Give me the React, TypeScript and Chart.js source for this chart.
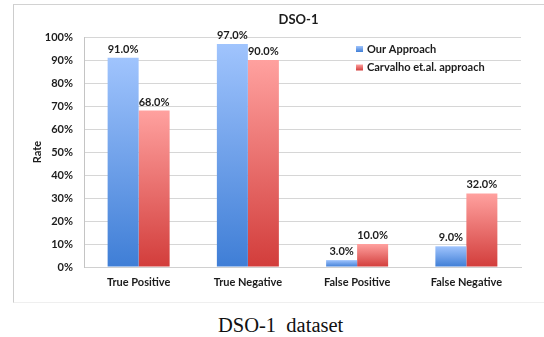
import React, { useEffect, useRef } from "react";
import { Chart, registerables } from "chart.js";

Chart.register(...registerables);

// Chart data
const chartTitle = "DSO-1";
const categories = ["True Positive", "True Negative", "False Positive", "False Negative"];
const seriesNames = ["Our Approach", "Carvalho et.al. approach"];
const ourApproach = [91, 97, 3, 9];
const carvalhoApproach = [68, 90, 10, 32];
const yAxisTitle = "Rate";
const caption = "DSO-1  dataset";

const FONT = "Lato, 'Open Sans', sans-serif";
const TEXT = "#1c1c1c";

// light-top / dark-bottom fills for each series
const fills = [
  { top: "#a0c4fd", bottom: "#3f7ed6" },
  { top: "#ffa19f", bottom: "#d23d3b" },
];

function barGradient(ctx: any, idx: number) {
  const chart = ctx.chart;
  const fill = fills[idx];
  const y = chart.scales && chart.scales.y;
  if (!chart.chartArea || !y || ctx.type !== "data") return fill.bottom;
  const top = y.getPixelForValue(ctx.raw);
  const base = y.getPixelForValue(0);
  if (!isFinite(top) || !isFinite(base) || Math.abs(base - top) < 0.5) return fill.bottom;
  const g = chart.ctx.createLinearGradient(0, top, 0, base);
  g.addColorStop(0, fill.top);
  g.addColorStop(1, fill.bottom);
  return g;
}

// value labels above each bar
const valueLabels = {
  id: "valueLabels",
  afterDatasetsDraw(chart: any) {
    const { ctx } = chart;
    ctx.save();
    ctx.font = `bold 11px ${FONT}`;
    ctx.fillStyle = TEXT;
    ctx.textAlign = "center";
    ctx.textBaseline = "alphabetic";
    chart.data.datasets.forEach((ds: any, di: number) => {
      const meta = chart.getDatasetMeta(di);
      meta.data.forEach((bar: any, i: number) => {
        const v = ds.data[i];
        ctx.fillText(`${v.toFixed(1)}%`, bar.x, bar.y - 5);
      });
    });
    ctx.restore();
  },
};

// title above the plot and legend inside the plot area
const titleAndLegend = {
  id: "titleAndLegend",
  afterDraw(chart: any) {
    const { ctx, chartArea } = chart;
    ctx.save();
    ctx.fillStyle = TEXT;
    ctx.font = `bold 13px ${FONT}`;
    ctx.textAlign = "center";
    ctx.textBaseline = "middle";
    ctx.fillText(chartTitle, (chartArea.left + chartArea.right) / 2 - 4, 20);

    ctx.font = `bold 11px ${FONT}`;
    ctx.textAlign = "left";
    const lx = chartArea.left + 272;
    chart.data.datasets.forEach((ds: any, i: number) => {
      const cy = chartArea.top + 12 + i * 18.5;
      const g = ctx.createLinearGradient(0, cy - 3, 0, cy + 3);
      g.addColorStop(0, fills[i].top);
      g.addColorStop(1, fills[i].bottom);
      ctx.fillStyle = g;
      ctx.fillRect(lx, cy - 3, 7, 6);
      ctx.fillStyle = TEXT;
      ctx.fillText(ds.label, lx + 11, cy);
    });
    ctx.restore();
  },
};

export default function App() {
  const canvasRef = useRef<HTMLCanvasElement | null>(null);

  useEffect(() => {
    if (!canvasRef.current) return;
    const chart = new Chart(canvasRef.current, {
      type: "bar",
      data: {
        labels: categories,
        datasets: [
          {
            label: seriesNames[0],
            data: ourApproach,
            backgroundColor: (c: any) => barGradient(c, 0),
            categoryPercentage: 0.5675,
            barPercentage: 1,
          },
          {
            label: seriesNames[1],
            data: carvalhoApproach,
            backgroundColor: (c: any) => barGradient(c, 1),
            categoryPercentage: 0.5675,
            barPercentage: 1,
          },
        ],
      },
      options: {
        responsive: false,
        animation: false,
        devicePixelRatio: 1,
        layout: { padding: { left: 20, top: 37, right: 23, bottom: 0 } },
        plugins: {
          legend: { display: false },
          title: { display: false },
          tooltip: { enabled: false },
        },
        scales: {
          x: {
            grid: { display: false, drawTicks: false },
            border: { display: true, color: "#d0d0d0" },
            ticks: {
              color: TEXT,
              font: { family: FONT, size: 11, weight: "bold" },
              padding: 9,
              maxRotation: 0,
            },
            afterFit: (s: any) => {
              s.height = 36;
            },
          },
          y: {
            min: 0,
            max: 100,
            grid: { color: "#d6d6d6", drawTicks: false },
            border: { display: true, color: "#c4c4c4" },
            ticks: {
              stepSize: 10,
              color: TEXT,
              font: { family: FONT, size: 11, weight: "bold" },
              padding: 11,
              callback: (v: any) => `${v}%`,
            },
            title: {
              display: true,
              text: yAxisTitle,
              color: TEXT,
              font: { family: FONT, size: 11, weight: "bold" },
              padding: { top: 11, bottom: 0 },
            },
            afterFit: (s: any) => {
              s.width = 64;
            },
          },
        },
      },
      plugins: [valueLabels, titleAndLegend],
    });
    return () => chart.destroy();
  }, []);

  return (
    <div
      style={{
        position: "fixed",
        left: 0,
        top: 0,
        width: 544,
        height: 337,
        background: "#ffffff",
        overflow: "hidden",
      }}
    >
      <div
        style={{
          position: "absolute",
          left: 13,
          top: 4,
          width: 560,
          height: 299,
          borderTop: "1px solid #d2d2d2",
          borderLeft: "1px solid #cdcdcd",
          borderBottom: "1px solid #efefef",
          boxSizing: "border-box",
        }}
      />
      <canvas
        ref={canvasRef}
        width={544}
        height={303}
        style={{ position: "absolute", left: 0, top: 0, width: 544, height: 303 }}
      />
      <div
        style={{
          position: "absolute",
          left: 218,
          top: 315,
          fontFamily: "'Liberation Serif', 'Times New Roman', serif",
          fontSize: 20.5,
          lineHeight: "20px",
          color: "#111",
          whiteSpace: "pre",
        }}
      >
        {caption}
      </div>
    </div>
  );
}
